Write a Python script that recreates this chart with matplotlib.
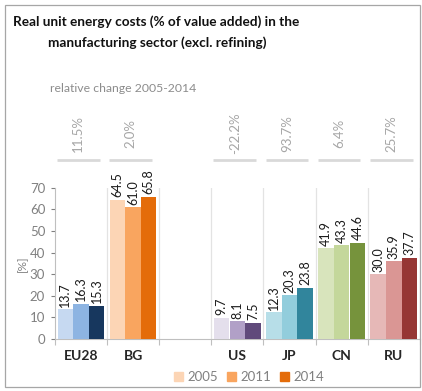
import matplotlib.pyplot as plt
from matplotlib.patches import Rectangle, Patch

plt.rcParams['font.family'] = ['Lato', 'DejaVu Sans']

# Real unit energy costs, % of value added
countries = ['EU28', 'BG', '', 'US', 'JP', 'CN', 'RU']
years = ['2005', '2011', '2014']
values_2005 = [13.7, 64.5, None, 9.7, 12.3, 41.9, 30.0]
values_2011 = [16.3, 61.0, None, 8.1, 20.3, 43.3, 35.9]
values_2014 = [15.3, 65.8, None, 7.5, 23.8, 44.6, 37.7]
rel_change = ['11.5%', '2.0%', None, '-22.2%', '93.7%', '6.4%', '25.7%']

palettes = [
    ['#c6d9f1', '#8db4e2', '#17375e'],
    ['#fcd5b5', '#f9a55f', '#e46c0a'],
    None,
    ['#e4dfec', '#b1a0c7', '#604a7b'],
    ['#b7dee8', '#92cddc', '#31859c'],
    ['#d8e4bc', '#c4d79b', '#76933c'],
    ['#e6b8b7', '#da9694', '#963634'],
]

grey = '#808080'
fig = plt.figure(figsize=(4.22, 3.91), dpi=100)
ax = fig.add_axes([0.130, 0.133, 0.865, 0.387])

series = [values_2005, values_2011, values_2014]
width = 0.295
for i, cname in enumerate(countries):
    if palettes[i] is None:
        continue
    for k, vals in enumerate(series):
        x = i + (k - 1) * 0.3
        ax.bar(x, vals[i], width=width, color=palettes[i][k], zorder=3)
        ax.text(x, vals[i] + 1.2, f'{vals[i]:.1f}', rotation=90, ha='center',
                va='bottom', fontsize=9, color='#1a1a1a')

# category separators
for b in range(1, 8):
    ax.plot([b - 0.5, b - 0.5], [0, 70], color='#e3e3e3', lw=0.9, zorder=1)

# relative change labels above the plot
for i, lab in enumerate(rel_change):
    if lab is None:
        continue
    ax.plot([i - 0.46, i + 0.36], [82.7, 82.7], color='#d9d9d9', lw=2,
            clip_on=False, solid_capstyle='butt')
    ax.text(i - 0.05, 95, lab, rotation=90, ha='center', va='center',
            fontsize=9.5, color='#a6a6a6', clip_on=False)

ax.set_xlim(-0.5, 6.5)
ax.set_ylim(0, 70)
ax.set_yticks(range(0, 71, 10))
ax.set_xticks([b - 0.5 for b in range(0, 8)])
ax.set_xticklabels([])
ax.tick_params(axis='y', colors=grey, labelsize=9.5, length=3, width=0.8, pad=4)
ax.tick_params(axis='x', colors='#bfbfbf', length=4, width=0.8, direction='out')
for i, cname in enumerate(countries):
    ax.text(i, -5.2, cname, ha='center', va='top', fontsize=10,
            fontweight='bold', color='#262626')
for side in ['top', 'right']:
    ax.spines[side].set_visible(False)
ax.spines['left'].set_color('#bfbfbf')
ax.spines['bottom'].set_color('#bfbfbf')
ax.set_ylabel('[%]', color=grey, fontsize=8.5, labelpad=1)

handles = [Patch(color=c) for c in palettes[1]]
fig.legend(handles, years, loc='center', bbox_to_anchor=(249 / 422, 1 - 377 / 391),
           ncol=3, frameon=False, fontsize=9.5, handlelength=0.7, handleheight=0.7,
           handletextpad=0.3, columnspacing=0.7, labelcolor=grey)

fig.text(13 / 422, 1 - 22 / 391, 'Real unit energy costs (% of value added) in the',
         fontsize=9.8, fontweight='bold', va='center', color='#111111')
fig.text(48 / 422, 1 - 43 / 391, 'manufacturing sector (excl. refining)',
         fontsize=9.8, fontweight='bold', va='center', color='#111111')
fig.text(50 / 422, 1 - 88 / 391, 'relative change 2005-2014', fontsize=8.8,
         va='center', color='#8c8c8c')

fig.patches.append(Rectangle((5 / 422, 4 / 391), 415 / 422, 382 / 391,
                             transform=fig.transFigure, fill=False,
                             edgecolor='#a6a6a6', lw=0.9))

fig.savefig('out.png', dpi=100)
